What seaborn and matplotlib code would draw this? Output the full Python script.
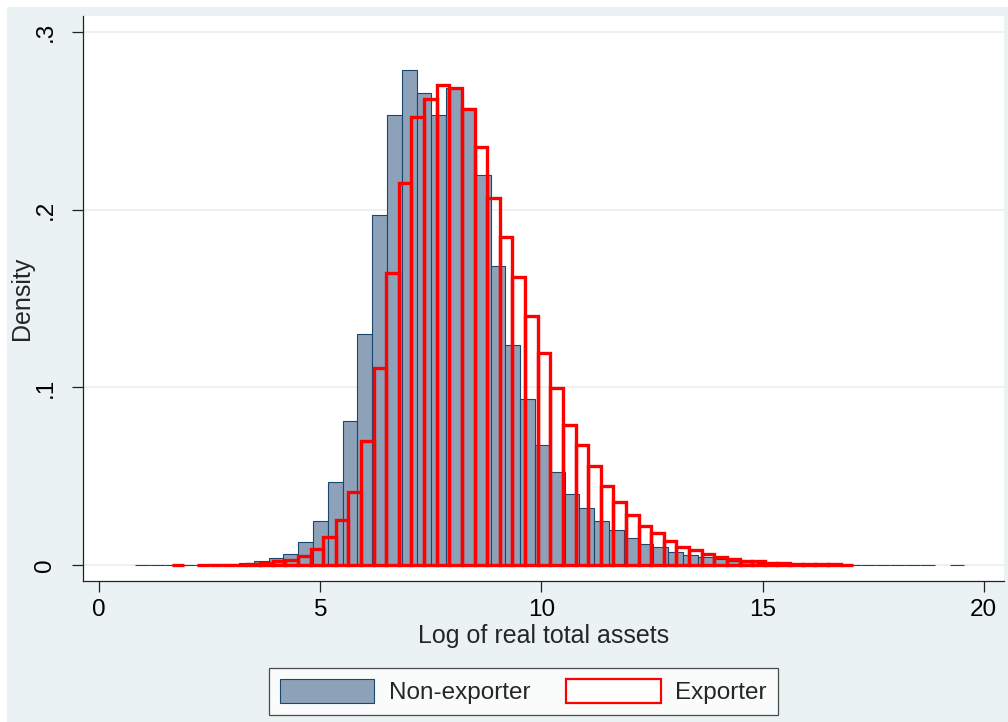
import numpy as np
import pandas as pd
import matplotlib
matplotlib.use("Agg")
import matplotlib.pyplot as plt
from matplotlib.patches import Patch, Rectangle
import seaborn as sns

# Non-exporter histogram (density per bin, 56 equal-width bins)
nonexp_start = 0.815
nonexp_width = 0.3348
nonexp_density = [
    0.0002, 0.0002, 0.0002, 0.0003, 0.0004, 0.0005, 0.0008, 0.0012,
    0.0023, 0.0038, 0.0066, 0.0128, 0.0249, 0.0468, 0.0810, 0.1298,
    0.1971, 0.2532, 0.2783, 0.2658, 0.2532, 0.2684, 0.2570, 0.2194,
    0.1682, 0.1238, 0.0935, 0.0679, 0.0525, 0.0401, 0.0322, 0.0249,
    0.0197, 0.0156, 0.0122, 0.0101, 0.0077, 0.0056, 0.0049, 0.0034,
    0.0026, 0.0019, 0.0013, 0.0010, 0.0007, 0.0005, 0.0004, 0.0003,
    0.0002, 0.00015, 0.0001, 0.0001, 0.00008, 0.00005, 0.0, 0.00005,
]

# Exporter histogram (density per bin, 54 equal-width bins)
exp_start = 1.638
exp_width = 0.2854
exp_density = [
    0.0002, 0.0, 0.0002, 0.0002, 0.0003, 0.0004, 0.0008, 0.0013,
    0.0025, 0.0032, 0.0051, 0.0093, 0.0158, 0.0257, 0.0414, 0.0698,
    0.1108, 0.1643, 0.2150, 0.2519, 0.2624, 0.2700, 0.2684, 0.2567,
    0.2354, 0.2066, 0.1847, 0.1622, 0.1404, 0.1194, 0.0995, 0.0791,
    0.0675, 0.0560, 0.0444, 0.0353, 0.0282, 0.0223, 0.0182, 0.0135,
    0.0103, 0.0084, 0.0062, 0.0045, 0.0036, 0.0024, 0.0024, 0.0013,
    0.0011, 0.0008, 0.0007, 0.0006, 0.0005, 0.0004,
]

x_ticks = [0, 5, 10, 15, 20]
y_ticks = [0, 0.1, 0.2, 0.3]
y_tick_labels = ["0", ".1", ".2", ".3"]

series_labels = ["Non-exporter", "Exporter"]

BG = "#EAF2F3"
NAVY_FILL = "#8DA2B8"
NAVY_EDGE = "#1A476F"
RED = "#FF0000"

sns.set_style("white")
plt.rcParams["font.family"] = ["Liberation Sans", "DejaVu Sans"]


def binned_frame(start, width, density):
    edges = start + width * np.arange(len(density) + 1)
    centers = (edges[:-1] + edges[1:]) / 2
    df = pd.DataFrame({"x": centers, "w": np.asarray(density, dtype=float)})
    return df, [float(e) for e in edges]


fig = plt.figure(figsize=(10.08, 7.22), dpi=100, facecolor="white")
# graph region background, inset from the top and left edges
fig.patches.append(Rectangle((0.0065, 0.0), 1.0, 0.9899,
                             transform=fig.transFigure, facecolor=BG,
                             edgecolor="none", zorder=-10))

ax = fig.add_axes([0.082, 0.1957, 0.914, 0.7826])
ax.set_facecolor("white")

# Non-exporter: filled bars
ne_df, ne_edges = binned_frame(nonexp_start, nonexp_width, nonexp_density)
sns.histplot(data=ne_df, x="x", weights="w", bins=ne_edges,
             stat="count", element="bars", fill=True,
             facecolor=NAVY_FILL, edgecolor=NAVY_EDGE, linewidth=0.8,
             alpha=1.0, ax=ax, zorder=2)

# Exporter: red outline bars
ex_df, ex_edges = binned_frame(exp_start, exp_width, exp_density)
sns.histplot(data=ex_df, x="x", weights="w", bins=ex_edges,
             stat="count", element="bars", fill=False,
             color=RED, linewidth=2.4, ax=ax, zorder=3)

# Empty bins are not drawn
for p in ax.patches:
    if p.get_height() <= 0:
        p.set_visible(False)

ax.set_xlim(-0.376, 20.46)
ax.set_ylim(-0.0087, 0.3091)

ax.set_xticks(x_ticks)
ax.set_xticklabels([str(t) for t in x_ticks])
ax.set_yticks(y_ticks)
ax.set_yticklabels(y_tick_labels, rotation=90, va="center")

ax.set_axisbelow(True)
ax.yaxis.grid(True, color=BG, linewidth=1.4, zorder=0)
ax.xaxis.grid(False)

for side in ["top", "right"]:
    ax.spines[side].set_visible(False)
for side in ["left", "bottom"]:
    ax.spines[side].set_color("#222222")
    ax.spines[side].set_linewidth(0.9)

ax.tick_params(axis="both", which="major", direction="out", length=8,
               width=0.9, color="#222222", labelsize=17.5, labelcolor="black")
ax.tick_params(axis="x", pad=5, bottom=True)
ax.tick_params(axis="y", pad=11, left=True)

ax.set_xlabel("Log of real total assets", fontsize=18, labelpad=2)
ax.set_ylabel("Density", fontsize=18)
ax.yaxis.set_label_coords(-0.053, 0.5)

handles = [
    Patch(facecolor=NAVY_FILL, edgecolor=NAVY_EDGE, linewidth=0.8),
    Patch(facecolor="white", edgecolor=RED, linewidth=1.6),
]
leg = fig.legend(handles, series_labels, loc="center",
                 bbox_to_anchor=(0.519, 0.042), ncol=2, frameon=True,
                 fancybox=False, fontsize=17.5, handlelength=3.9,
                 handleheight=1.15, handletextpad=0.6, columnspacing=1.45,
                 borderpad=0.45)
leg.get_frame().set_edgecolor("#222222")
leg.get_frame().set_linewidth(0.9)
leg.get_frame().set_facecolor("white")

fig.savefig("out.png", dpi=100, facecolor="white")
